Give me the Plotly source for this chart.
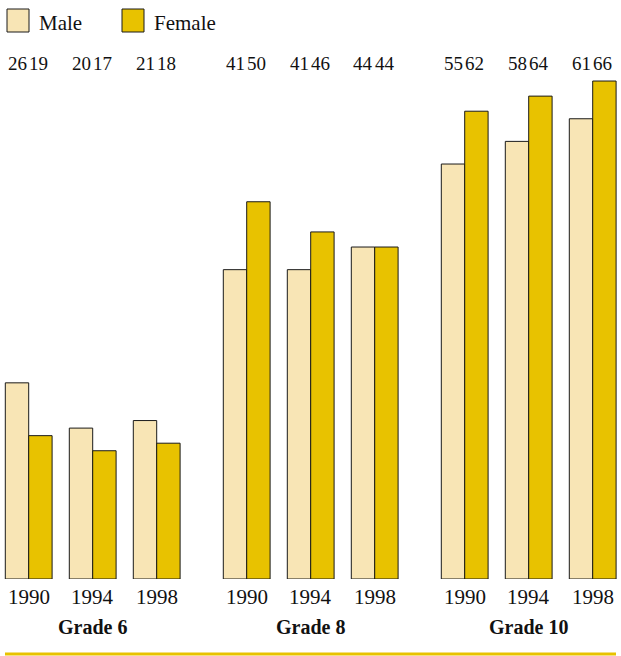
import plotly.graph_objects as go

grades = ["Grade 6", "Grade 8", "Grade 10"]
years = ["1990", "1994", "1998"]
male = [[26, 20, 21], [41, 41, 44], [55, 58, 61]]
female = [[19, 17, 18], [50, 46, 44], [62, 64, 66]]

MALE_COLOR = "#F8E5B5"
FEMALE_COLOR = "#E8C200"
EDGE = "#1a1a1a"
FONT = "Liberation Serif"

W, H = 621, 656
BASE_PX = 579          # pixel row of the zero line
PX_PER_UNIT = 7.545
BAR_W = 23.4
GROUP_STEP = 218
PAIR_STEP = 64
FIRST_CENTER = 17


def py(p):
    """pixel row -> paper y"""
    return (H - p) / H


xm, xf, ym, yf = [], [], [], []
for g in range(len(grades)):
    for k in range(len(years)):
        c = FIRST_CENTER + g * GROUP_STEP + k * PAIR_STEP
        xm.append(c)
        xf.append(c + BAR_W)
        ym.append(male[g][k])
        yf.append(female[g][k])

fig = go.Figure()
fig.add_bar(x=xm, y=ym, width=BAR_W, name="Male",
            marker=dict(color=MALE_COLOR, line=dict(color=EDGE, width=1)))
fig.add_bar(x=xf, y=yf, width=BAR_W, name="Female",
            marker=dict(color=FEMALE_COLOR, line=dict(color=EDGE, width=1)))

ann = []
shapes = []
# value labels over each bar, female ones nudged toward the pair centre
for x, v in zip(xm, ym):
    ann.append(dict(x=x, y=py(63), xref="x", yref="paper", text=str(v),
                    showarrow=False, font=dict(family=FONT, size=19, color="#111"),
                    xanchor="center", yanchor="middle"))
for x, v in zip(xf, yf):
    ann.append(dict(x=x - 1.5, y=py(63), xref="x", yref="paper", text=str(v),
                    showarrow=False, font=dict(family=FONT, size=19, color="#111"),
                    xanchor="center", yanchor="middle"))
# year labels and grade labels
for g in range(len(grades)):
    for k in range(len(years)):
        c = FIRST_CENTER + g * GROUP_STEP + k * PAIR_STEP + BAR_W / 2
        ann.append(dict(x=c, y=py(597), xref="x", yref="paper", text=years[k],
                        showarrow=False, font=dict(family=FONT, size=21, color="#111"),
                        xanchor="center", yanchor="middle"))
    gc = FIRST_CENTER + g * GROUP_STEP + PAIR_STEP + BAR_W / 2
    ann.append(dict(x=gc, y=py(627), xref="x", yref="paper", text="<b>%s</b>" % grades[g],
                    showarrow=False, font=dict(family=FONT, size=20, color="#111"),
                    xanchor="center", yanchor="middle"))

# legend drawn as swatches + text
for x0, col, label in [(7, MALE_COLOR, "Male"), (122, FEMALE_COLOR, "Female")]:
    shapes.append(dict(type="rect", xref="x", yref="paper", x0=x0, x1=x0 + 22,
                       y0=py(32), y1=py(9), fillcolor=col, line=dict(color=EDGE, width=1)))
    ann.append(dict(x=x0 + 30, y=py(23), xref="x", yref="paper", text=label,
                    showarrow=False, font=dict(family=FONT, size=21, color="#111"),
                    xanchor="left", yanchor="middle"))

# gold rule along the bottom
shapes.append(dict(type="line", xref="x", yref="paper", x0=5, x1=616,
                   y0=py(654), y1=py(654), line=dict(color=FEMALE_COLOR, width=3)))

fig.update_layout(
    width=W, height=H, margin=dict(l=0, r=0, t=0, b=0),
    paper_bgcolor="white", plot_bgcolor="white",
    showlegend=False, barmode="overlay",
    xaxis=dict(range=[0, W], visible=False, fixedrange=True),
    yaxis=dict(range=[0, BASE_PX / PX_PER_UNIT], domain=[py(BASE_PX), 1],
               visible=False, fixedrange=True),
    annotations=ann, shapes=shapes,
)

fig.write_html("out.html")
